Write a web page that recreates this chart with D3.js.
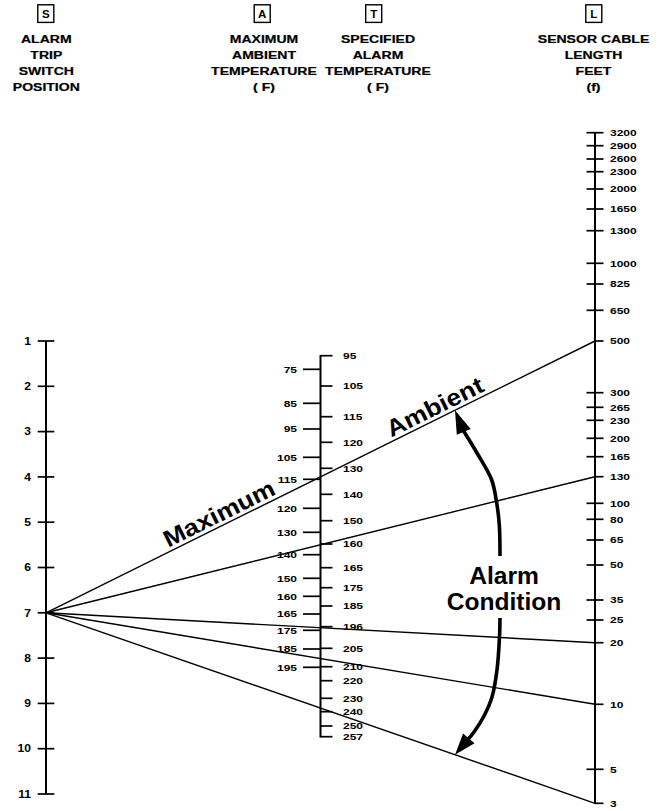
<!DOCTYPE html>
<html>
<head>
<meta charset="utf-8">
<script src="https://cdnjs.cloudflare.com/ajax/libs/d3/7.8.5/d3.min.js"></script>
<style>
  html, body { margin: 0; padding: 0; background: #fff; }
  svg { display: block; }
  text { font-family: "Liberation Sans", Arial, Helvetica, sans-serif; fill: #000; }
</style>
</head>
<body>
<div id="chart"></div>
<script>
// ---------------- DATA ----------------
const switchPositions = [1, 2, 3, 4, 5, 6, 7, 8, 9, 10, 11];
const ambientTicks = [75, 85, 95, 105, 115, 120, 130, 140, 150, 160, 165, 175, 185, 195];
const alarmTicks = [95, 105, 115, 120, 130, 140, 150, 160, 165, 175, 185, 196, 205, 210, 220, 230, 240, 250, 257];
const lengthTicks = [3200, 2900, 2600, 2300, 2000, 1650, 1300, 1000, 825, 650, 500, 300, 265, 230, 200, 165, 130, 100, 80, 65, 50, 35, 25, 20, 10, 5, 3];
const pivotSwitch = 7;
const exampleLengths = [500, 130, 20, 10, 3];
const headers = [
  { key: "S", lines: ["ALARM", "TRIP", "SWITCH", "POSITION"] },
  { key: "A", lines: ["MAXIMUM", "AMBIENT", "TEMPERATURE", "( F)"] },
  { key: "T", lines: ["SPECIFIED", "ALARM", "TEMPERATURE", "( F)"] },
  { key: "L", lines: ["SENSOR CABLE", "LENGTH", "FEET", "(f)"] }
];

// ------------- NOMOGRAM SCALE CALIBRATION (graduation of each non-linear axis) -------------
const ambientGrad = [369.3, 403.3, 429, 457.3, 479.3, 508.3, 532.3, 554.7, 578.3, 596.3, 614, 630.3, 649, 667.3];
const alarmGrad = [355.7, 386, 416.7, 442.3, 468.3, 494.3, 520.7, 544, 567.7, 587.7, 606, 626.7, 648.3, 666.7, 680.7, 698.3, 711.7, 726, 736.7];
const lengthGrad = [132.7, 145.7, 159, 171.7, 189, 209, 230.7, 263.3, 284, 310.3, 341, 392.7, 407.3, 420.3, 438.3, 456.7, 476.7, 503.3, 519.3, 540, 565, 600, 620, 642.7, 704.3, 769.3, 803.3];

const W = 664, H = 811;
const xS = 46, xM = 320.5, xL = 595;

const yS = d3.scaleLinear().domain([1, 11]).range([341, 794]);
const yA = d3.scaleLinear().domain(ambientTicks).range(ambientGrad);
const yT = d3.scaleLinear().domain(alarmTicks).range(alarmGrad);
const yL = d3.scaleLinear().domain(lengthTicks).range(lengthGrad);

const svg = d3.select("#chart").append("svg").attr("width", W).attr("height", H);
svg.append("rect").attr("width", W).attr("height", H).attr("fill", "#fff");

function label(sel, x, y, s, size, anchor, sx, dy) {
  return sel.append("text")
    .attr("transform", `translate(${x},${y}) scale(${sx},1)`)
    .attr("text-anchor", anchor)
    .attr("font-size", size)
    .attr("font-weight", "bold")
    .attr("dy", dy || 0)
    .text(s);
}

// ---------------- HEADERS ----------------
const headerX = [46.3, 264, 378, 593.5];
const boxX = [45.8, 262.2, 373.7, 593.8];
const hg = svg.append("g");
headers.forEach((h, i) => {
  hg.append("rect").attr("x", boxX[i] - 8).attr("y", 4.8).attr("width", 16).attr("height", 17.6)
    .attr("fill", "none").attr("stroke", "#000").attr("stroke-width", 1.4);
  label(hg, boxX[i], 17.8, h.key, 10.5, "middle", 1.1);
  h.lines.forEach((t, j) => {
    label(hg, headerX[i], 42.6 + j * 16, t, 10.8, "middle", 1.3).attr("stroke", "#000").attr("stroke-width", 0.2);
  });
});

// ---------------- AXES ----------------
const axisW = 2, tickW = 1.7;
const g = svg.append("g").attr("stroke", "#000").attr("fill", "none");

// S axis (left)
g.append("line").attr("x1", xS).attr("x2", xS).attr("y1", yS(1)).attr("y2", yS(11)).attr("stroke-width", axisW);
switchPositions.forEach(v => {
  g.append("line").attr("x1", xS - 8.3).attr("x2", xS + 8.3).attr("y1", yS(v)).attr("y2", yS(v)).attr("stroke-width", tickW);
});
const lg = svg.append("g");
switchPositions.forEach(v => label(lg, 31, yS(v), String(v), 10.5, "end", 1.15, "0.36em"));

// Middle axis (A left / T right)
g.append("line").attr("x1", xM).attr("x2", xM).attr("y1", yT(95) - 0.8).attr("y2", yT(257) + 0.8).attr("stroke-width", axisW);
ambientTicks.forEach(v => {
  g.append("line").attr("x1", xM - 17.5).attr("x2", xM).attr("y1", yA(v)).attr("y2", yA(v)).attr("stroke-width", tickW);
  label(lg, 297, yA(v), String(v), 9.6, "end", 1.25, "0.36em");
});
alarmTicks.forEach(v => {
  g.append("line").attr("x1", xM).attr("x2", xM + 12).attr("y1", yT(v)).attr("y2", yT(v)).attr("stroke-width", tickW);
  label(lg, 343, yT(v), String(v), 9.6, "start", 1.25, "0.36em");
});

// L axis (right)
g.append("line").attr("x1", xL).attr("x2", xL).attr("y1", yL(3200) - 0.8).attr("y2", yL(3) + 0.8).attr("stroke-width", axisW);
lengthTicks.forEach(v => {
  const rightOnly = exampleLengths.includes(v);
  g.append("line").attr("x1", rightOnly ? xL : xL - 8.5).attr("x2", xL + 8.5)
    .attr("y1", yL(v)).attr("y2", yL(v)).attr("stroke-width", tickW);
  label(lg, 610, yL(v), String(v), 9.6, "start", 1.25, "0.36em");
});

// ---------------- EXAMPLE LINES ----------------
exampleLengths.forEach(v => {
  g.append("line").attr("x1", xS).attr("y1", yS(pivotSwitch)).attr("x2", xL).attr("y2", yL(v))
    .attr("stroke-width", 1.4);
});

// ---------------- LINE LABELS ----------------
const y0 = yS(pivotSwitch), y1 = yL(500);
const slope = (y1 - y0) / (xL - xS);
const ang = Math.atan(slope) * 180 / Math.PI;
function onLine(x) { return y0 + slope * (x - xS); }
function lineText(x, s, off) {
  const rad = Math.atan(slope);
  const px = x + off * Math.sin(rad), py = onLine(x) - off * Math.cos(rad);
  svg.append("text")
    .attr("transform", `translate(${px},${py}) rotate(${ang}) scale(1.12,1)`)
    .attr("font-size", 23.5).attr("font-weight", "bold").attr("text-anchor", "start")
    .text(s);
}
lineText(170, "Maximum", 4);
lineText(393, "Ambient", 4);

// ---------------- ALARM CONDITION ----------------
label(svg, 504, 583.5, "Alarm", 23, "middle", 1.07);
label(svg, 504, 609.5, "Condition", 23, "middle", 1.07);

// curved arrows
const curve = d3.line().curve(d3.curveCatmullRom.alpha(0.5));
const topPts = [[500, 556], [499.3, 525], [496.7, 503], [491.7, 480], [477, 453], [463, 430]];
const botPts = [[500, 618], [499.5, 637], [497, 670], [492, 697], [484, 716], [474, 732], [467.5, 740]];
svg.append("path").attr("d", curve(topPts)).attr("fill", "none").attr("stroke", "#000").attr("stroke-width", 3.6);
svg.append("path").attr("d", curve(botPts)).attr("fill", "none").attr("stroke", "#000").attr("stroke-width", 3.6);

function arrowHead(base, tip, half) {
  const dx = tip[0] - base[0], dy = tip[1] - base[1];
  const len = Math.hypot(dx, dy);
  const nx = -dy / len, ny = dx / len;
  const b0 = [base[0] - dx / len * 2, base[1] - dy / len * 2];
  svg.append("path")
    .attr("d", `M${tip[0]},${tip[1]}L${b0[0] + nx * half},${b0[1] + ny * half}L${b0[0] - nx * half},${b0[1] - ny * half}Z`)
    .attr("fill", "#000");
}
arrowHead([463, 430], [455, onLine(455)], 7.5);
arrowHead([467.5, 740], [455, y0 + (yL(3) - y0) / (xL - xS) * (455 - xS)], 7.5);
</script>
</body>
</html>
